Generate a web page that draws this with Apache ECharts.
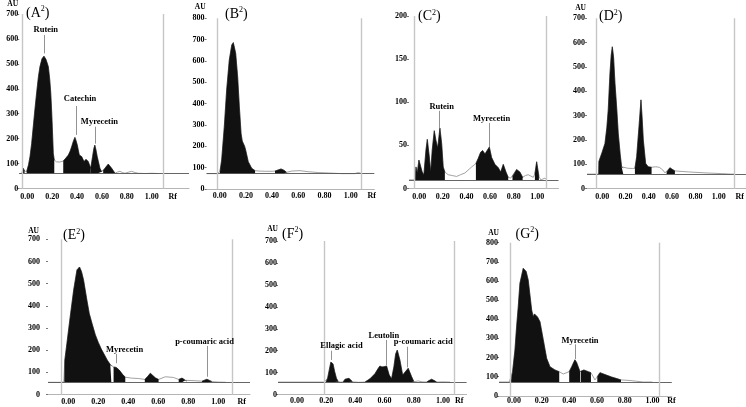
<!DOCTYPE html>
<html><head><meta charset="utf-8">
<script src="https://cdn.jsdelivr.net/npm/echarts@6/dist/echarts.min.js"></script>
<style>html,body{margin:0;padding:0;background:#fff}#c{width:746px;height:407px}</style>
</head><body><div id="c"></div>
<script>
// ---- data (Rf, AU) ----
const rfTicks = [0, 0.2, 0.4, 0.6, 0.8, 1.0];

const A_trace = [[-0.065,60],[-0.045,60],[-0.04,65],[-0.032,81],[-0.022,70],[-0.015,62],[-0.005,68],[0.01,95],[0.022,128],[0.035,180],[0.048,248],[0.062,320],[0.076,388],[0.09,450],[0.102,489],[0.118,520],[0.134,531],[0.15,518],[0.169,489],[0.18,440],[0.188,388],[0.195,320],[0.201,248],[0.209,141],[0.217,114],[0.235,107],[0.26,106],[0.289,110],[0.31,122],[0.33,134],[0.345,150],[0.357,168],[0.372,192],[0.383,205],[0.392,192],[0.402,174],[0.418,134],[0.437,128],[0.456,108],[0.472,117],[0.49,108],[0.51,81],[0.525,128],[0.535,160],[0.543,174],[0.552,155],[0.562,128],[0.584,81],[0.598,67],[0.61,72],[0.624,81],[0.651,98],[0.665,90],[0.678,81],[0.705,61],[0.725,66],[0.745,69],[0.765,64],[0.785,61],[0.81,65],[0.839,69],[0.865,64],[0.892,61],[0.95,60],[1.0,61],[1.05,60]];
const A_fills = [[-0.04,-0.022],[-0.005,0.217],[0.289,0.51],[0.51,0.598],[0.61,0.705]];
const A_notes = [
  {name:'Rutein', lx:0.149, ly:636, x:0.134, y1:616, y2:542},
  {name:'Catechin', lx:0.424, ly:359, x:0.39, y1:331, y2:215},
  {name:'Myrecetin', lx:0.58, ly:268, x:0.548, y1:248, y2:180}
];

const B_trace = [[-0.1,72],[-0.018,72],[-0.011,72],[0.002,81],[0.015,136],[0.035,292],[0.053,464],[0.073,604],[0.092,675],[0.104,686],[0.122,636],[0.137,526],[0.15,386],[0.163,261],[0.172,225],[0.18,214],[0.19,200],[0.198,183],[0.218,128],[0.244,97],[0.27,86],[0.3,84],[0.35,83],[0.4,83],[0.422,84],[0.445,89],[0.468,94],[0.49,88],[0.511,78],[0.524,75],[0.55,84],[0.613,86],[0.676,81],[0.753,77],[0.829,75],[0.93,72],[1.03,72],[1.058,77],[1.084,72]];
const B_fills = [[0.002,0.27],[0.422,0.511]];
const B_notes = [];

const C_trace = [[-0.087,10],[-0.042,10],[-0.035,12],[-0.028,25],[-0.017,18],[-0.003,33],[0.012,31],[0.025,19],[0.039,16],[0.057,45],[0.068,57],[0.085,37],[0.097,19],[0.11,45],[0.127,67],[0.141,56],[0.156,47],[0.175,70],[0.19,52],[0.203,25],[0.217,19],[0.245,16],[0.28,15],[0.317,14],[0.35,16],[0.387,18],[0.444,25],[0.48,29],[0.5,35],[0.52,42],[0.537,44],[0.557,40],[0.575,44],[0.594,48],[0.613,36],[0.641,28],[0.67,24],[0.69,19],[0.712,28],[0.735,19],[0.754,13],[0.775,12],[0.79,14],[0.825,22],[0.853,19],[0.876,13],[0.9,15],[0.923,16],[0.966,13],[0.98,17],[0.995,31],[1.014,14],[1.03,10],[1.065,12],[1.08,10]];
const C_fills = [[-0.035,0.217],[0.48,0.754],[0.79,0.876],[0.98,1.014]];
const C_notes = [
  {name:'Rutein', lx:0.19, ly:95, x:0.17, y1:90, y2:70},
  {name:'Myrecetin', lx:0.613, ly:81, x:0.594, y1:76, y2:48}
];

const D_trace = [[-0.13,60],[-0.053,60],[-0.03,60],[-0.028,112],[-0.019,118],[0.0,150],[0.024,186],[0.04,250],[0.052,323],[0.067,474],[0.078,550],[0.087,583],[0.098,540],[0.11,433],[0.125,330],[0.138,228],[0.155,140],[0.167,90],[0.181,85],[0.22,84],[0.26,83],[0.281,84],[0.296,131],[0.316,255],[0.333,365],[0.343,290],[0.353,200],[0.373,104],[0.395,90],[0.424,88],[0.46,90],[0.49,88],[0.52,77],[0.539,65],[0.553,68],[0.581,86],[0.6,80],[0.624,73],[0.738,69],[0.882,65],[1.025,62],[1.1,60],[1.13,60]];
const D_fills = [[-0.03,0.181],[0.281,0.424],[0.553,0.624]];
const D_notes = [];

const E_trace = [[-0.135,55],[-0.05,55],[-0.03,56],[-0.025,58],[-0.023,155],[-0.009,231],[0.013,351],[0.036,471],[0.058,562],[0.075,575],[0.088,555],[0.102,516],[0.124,426],[0.14,365],[0.158,321],[0.18,270],[0.2,235],[0.22,205],[0.24,180],[0.26,155],[0.28,135],[0.287,128],[0.302,124],[0.32,122],[0.34,110],[0.36,92],[0.38,78],[0.42,74],[0.47,72],[0.51,68],[0.53,82],[0.547,96],[0.56,88],[0.58,75],[0.602,68],[0.613,68],[0.647,80],[0.7,77],[0.736,68],[0.758,74],[0.78,64],[0.791,60],[0.85,62],[0.891,60],[0.924,69],[0.958,58],[1.0,56],[1.05,55]];
const E_fills = [[-0.025,0.287],[0.302,0.38],[0.51,0.602],[0.736,0.791],[0.891,0.958]];
const E_notes = [
  {name:'Myrecetin', lx:0.375, ly:202, x:0.318, y1:183, y2:141},
  {name:'p-coumaric acid', lx:0.908, ly:238, x:0.924, y1:219, y2:80}
];

const F_trace = [[-0.13,57],[0.187,57],[0.199,58],[0.21,75],[0.222,115],[0.232,148],[0.238,154],[0.247,140],[0.258,105],[0.27,75],[0.283,59],[0.3,57],[0.317,58],[0.329,70],[0.342,66],[0.356,74],[0.368,68],[0.381,58],[0.42,56],[0.466,57],[0.5,72],[0.534,95],[0.557,120],[0.568,130],[0.582,126],[0.596,127],[0.614,130],[0.632,89],[0.648,72],[0.664,127],[0.676,185],[0.687,203],[0.705,158],[0.724,89],[0.735,85],[0.762,120],[0.785,82],[0.801,59],[0.831,62],[0.86,58],[0.888,57],[0.905,64],[0.922,70],[0.94,64],[0.957,57],[1.0,58],[1.05,57]];
const F_fills = [[0.199,0.283],[0.317,0.381],[0.466,0.801],[0.888,0.957]];
const F_notes = [
  {name:'Ellagic acid', lx:0.305, ly:221, x:0.232, y1:200, y2:158},
  {name:'Leutolin', lx:0.595, ly:267, x:0.61, y1:249, y2:133},
  {name:'p-coumaric acid', lx:0.865, ly:240, x:0.755, y1:218, y2:124}
];

const G_trace = [[-0.108,72],[-0.034,72],[-0.024,72],[-0.01,126],[0.007,239],[0.019,361],[0.031,466],[0.043,588],[0.067,666],[0.074,675],[0.088,650],[0.103,605],[0.128,448],[0.139,413],[0.148,428],[0.157,431],[0.17,412],[0.188,387],[0.212,292],[0.236,196],[0.26,152],[0.296,135],[0.327,126],[0.356,114],[0.399,126],[0.417,152],[0.44,188],[0.452,175],[0.464,152],[0.477,126],[0.482,128],[0.505,135],[0.537,126],[0.556,121],[0.585,83],[0.602,100],[0.621,121],[0.657,111],[0.705,98],[0.742,90],[0.773,83],[0.838,80],[0.886,76],[0.934,72],[1.0,72]];
const G_fills = [[-0.024,0.327],[0.399,0.477],[0.482,0.556],[0.602,0.773]];
const G_notes = [
  {name:'Myrecetin', lx:0.477, ly:290, x:0.445, y1:269, y2:192}
];

// ---- layout / style ----
const FONT = 'Liberation Serif';
const panels = [
  {letter:'A', trace:A_trace, fills:A_fills, notes:A_notes, base:60, ymax:700, yInt:100, left:19.2, width:169.8, top:14, height:174.5, xmin:-0.065, xmax:1.3, bounds:[-0.045,1.09], rf:1.169, xm:4, ym:1, au:{gap:6,pad:1}, tl:[26,5]},
  {letter:'B', trace:B_trace, fills:B_fills, notes:B_notes, base:72, ymax:800, yInt:100, left:206.6, width:167.7, top:18.3, height:170.7, xmin:-0.1, xmax:1.18, bounds:[-0.018,1.084], rf:1.16, xm:3, ym:2, au:{gap:7,pad:1}, tl:[225,6]},
  {letter:'C', trace:C_trace, fills:C_fills, notes:C_notes, base:10, ymax:200, yInt:50, left:409, width:149.5, top:16, height:172.5, xmin:-0.087, xmax:1.18, bounds:[-0.042,1.08], rf:null, xm:4, ym:2, au:null, tl:[418,8.5]},
  {letter:'D', trace:D_trace, fills:D_fills, notes:D_notes, base:60, ymax:700, yInt:100, left:587, width:158.9, top:18.3, height:170.4, xmin:-0.13, xmax:1.233, bounds:[-0.053,1.13], rf:1.18, xm:4, ym:2, au:{gap:6,pad:1}, tl:[599,8.5]},
  {letter:'E', trace:E_trace, fills:E_fills, notes:E_notes, base:55, ymax:700, yInt:100, left:48, width:202, top:239.3, height:155.2, xmin:-0.135, xmax:1.211, bounds:[-0.05,1.09], rf:1.156, xm:3.5, ym:8, au:{gap:3,pad:9}, tl:[63,227.5]},
  {letter:'F', trace:F_trace, fills:F_fills, notes:F_notes, base:57, ymax:700, yInt:100, left:278, width:188.6, top:241, height:153.6, xmin:-0.13, xmax:1.162, bounds:[0.187,1.077], rf:1.112, xm:2.6, ym:1, au:{gap:8,pad:0}, tl:[282,226]},
  {letter:'G', trace:G_trace, fills:G_fills, notes:G_notes, base:72, ymax:800, yInt:100, left:499, width:172.8, top:242.7, height:153.1, xmin:-0.108, xmax:1.14, bounds:[-0.034,1.054], rf:1.137, xm:1, ym:1, au:{gap:6,pad:0}, tl:[515.5,226]}
];

function segment(trace, s, e) {
  return trace.filter(p => p[0] >= s - 1e-9 && p[0] <= e + 1e-9);
}

const option = {animation:false, backgroundColor:'#fff', title:[], grid:[], xAxis:[], yAxis:[], series:[]};

panels.forEach((p, i) => {
  option.title.push({
    text: '(' + p.letter + '{s|2})', left: p.tl[0], top: p.tl[1], padding: 0,
    textStyle: {fontFamily: FONT, fontSize: 14, lineHeight: 16, fontWeight: 'normal', color: '#000',
      rich: {s: {fontFamily: FONT, fontSize: 8, lineHeight: 9, verticalAlign: 'top', color: '#000'}}}
  });
  option.grid.push({left: p.left, top: p.top, width: p.width, height: p.height, containLabel: false, outerBoundsMode: 'none'});
  const ticks = p.rf ? rfTicks.concat([p.rf]) : rfTicks.slice();
  option.xAxis.push({
    type: 'value', gridIndex: i, min: p.xmin, max: p.xmax,
    axisLine: {show: true, onZero: false, lineStyle: {color: '#b5b5b5', width: 1}},
    axisTick: {show: false}, splitLine: {show: false},
    axisLabel: {customValues: ticks, margin: p.xm, fontFamily: FONT, fontWeight: 'bold', fontSize: 8, color: '#000',
      formatter: v => (p.rf && Math.abs(v - p.rf) < 1e-6) ? 'Rf' : v.toFixed(2)}
  });
  option.yAxis.push({
    type: 'value', gridIndex: i, min: 0, max: p.ymax, interval: p.yInt,
    name: p.au ? 'AU' : '', nameLocation: 'end', nameGap: p.au ? p.au.gap : 0,
    nameTextStyle: {fontFamily: FONT, fontWeight: 'bold', fontSize: 7.5, color: '#000', align: 'right', padding: [0, p.au ? p.au.pad : 0, 0, 0]},
    axisLine: {show: false, onZero: false}, axisTick: {show: true, length: 2, lineStyle: {color: '#555', width: 0.8}},
    splitLine: {show: false},
    axisLabel: {margin: p.ym, fontFamily: FONT, fontWeight: 'bold', fontSize: 8, color: '#000'}
  });
  const lines = [
    {yAxis: p.base, lineStyle: {color: '#555', width: 0.9, type: 'solid'}},
    {xAxis: p.bounds[0], lineStyle: {color: '#c6c6c6', width: 1.4, type: 'solid'}},
    {xAxis: p.bounds[1], lineStyle: {color: '#c6c6c6', width: 1.4, type: 'solid'}}
  ];
  p.notes.forEach(n => lines.push([{coord: [n.x, n.y1], lineStyle: {color: '#777', width: 0.8, type: 'solid'}}, {coord: [n.x, n.y2]}]));
  option.series.push({
    type: 'line', xAxisIndex: i, yAxisIndex: i, data: p.trace, symbol: 'none', z: 1,
    lineStyle: {color: '#8a8a8a', width: 0.8},
    markLine: {silent: true, symbol: ['none', 'none'], label: {show: false}, animation: false, data: lines},
    markPoint: {silent: true, symbol: 'circle', symbolSize: 1, itemStyle: {color: 'rgba(0,0,0,0)'}, animation: false,
      label: {show: true, position: 'inside', formatter: '{b}', fontFamily: FONT, fontWeight: 'bold', fontSize: 8.5, color: '#000'},
      data: p.notes.map(n => ({name: n.name, coord: [n.lx, n.ly]}))}
  });
  p.fills.forEach(f => {
    option.series.push({
      type: 'line', xAxisIndex: i, yAxisIndex: i, data: segment(p.trace, f[0], f[1]), symbol: 'none', z: 2,
      lineStyle: {color: '#111', width: 0.5},
      areaStyle: {color: '#111', opacity: 1, origin: p.base}
    });
  });
});

const chart = echarts.init(document.getElementById('c'), null, {renderer: 'canvas'});
chart.setOption(option);
</script>
</body></html>
